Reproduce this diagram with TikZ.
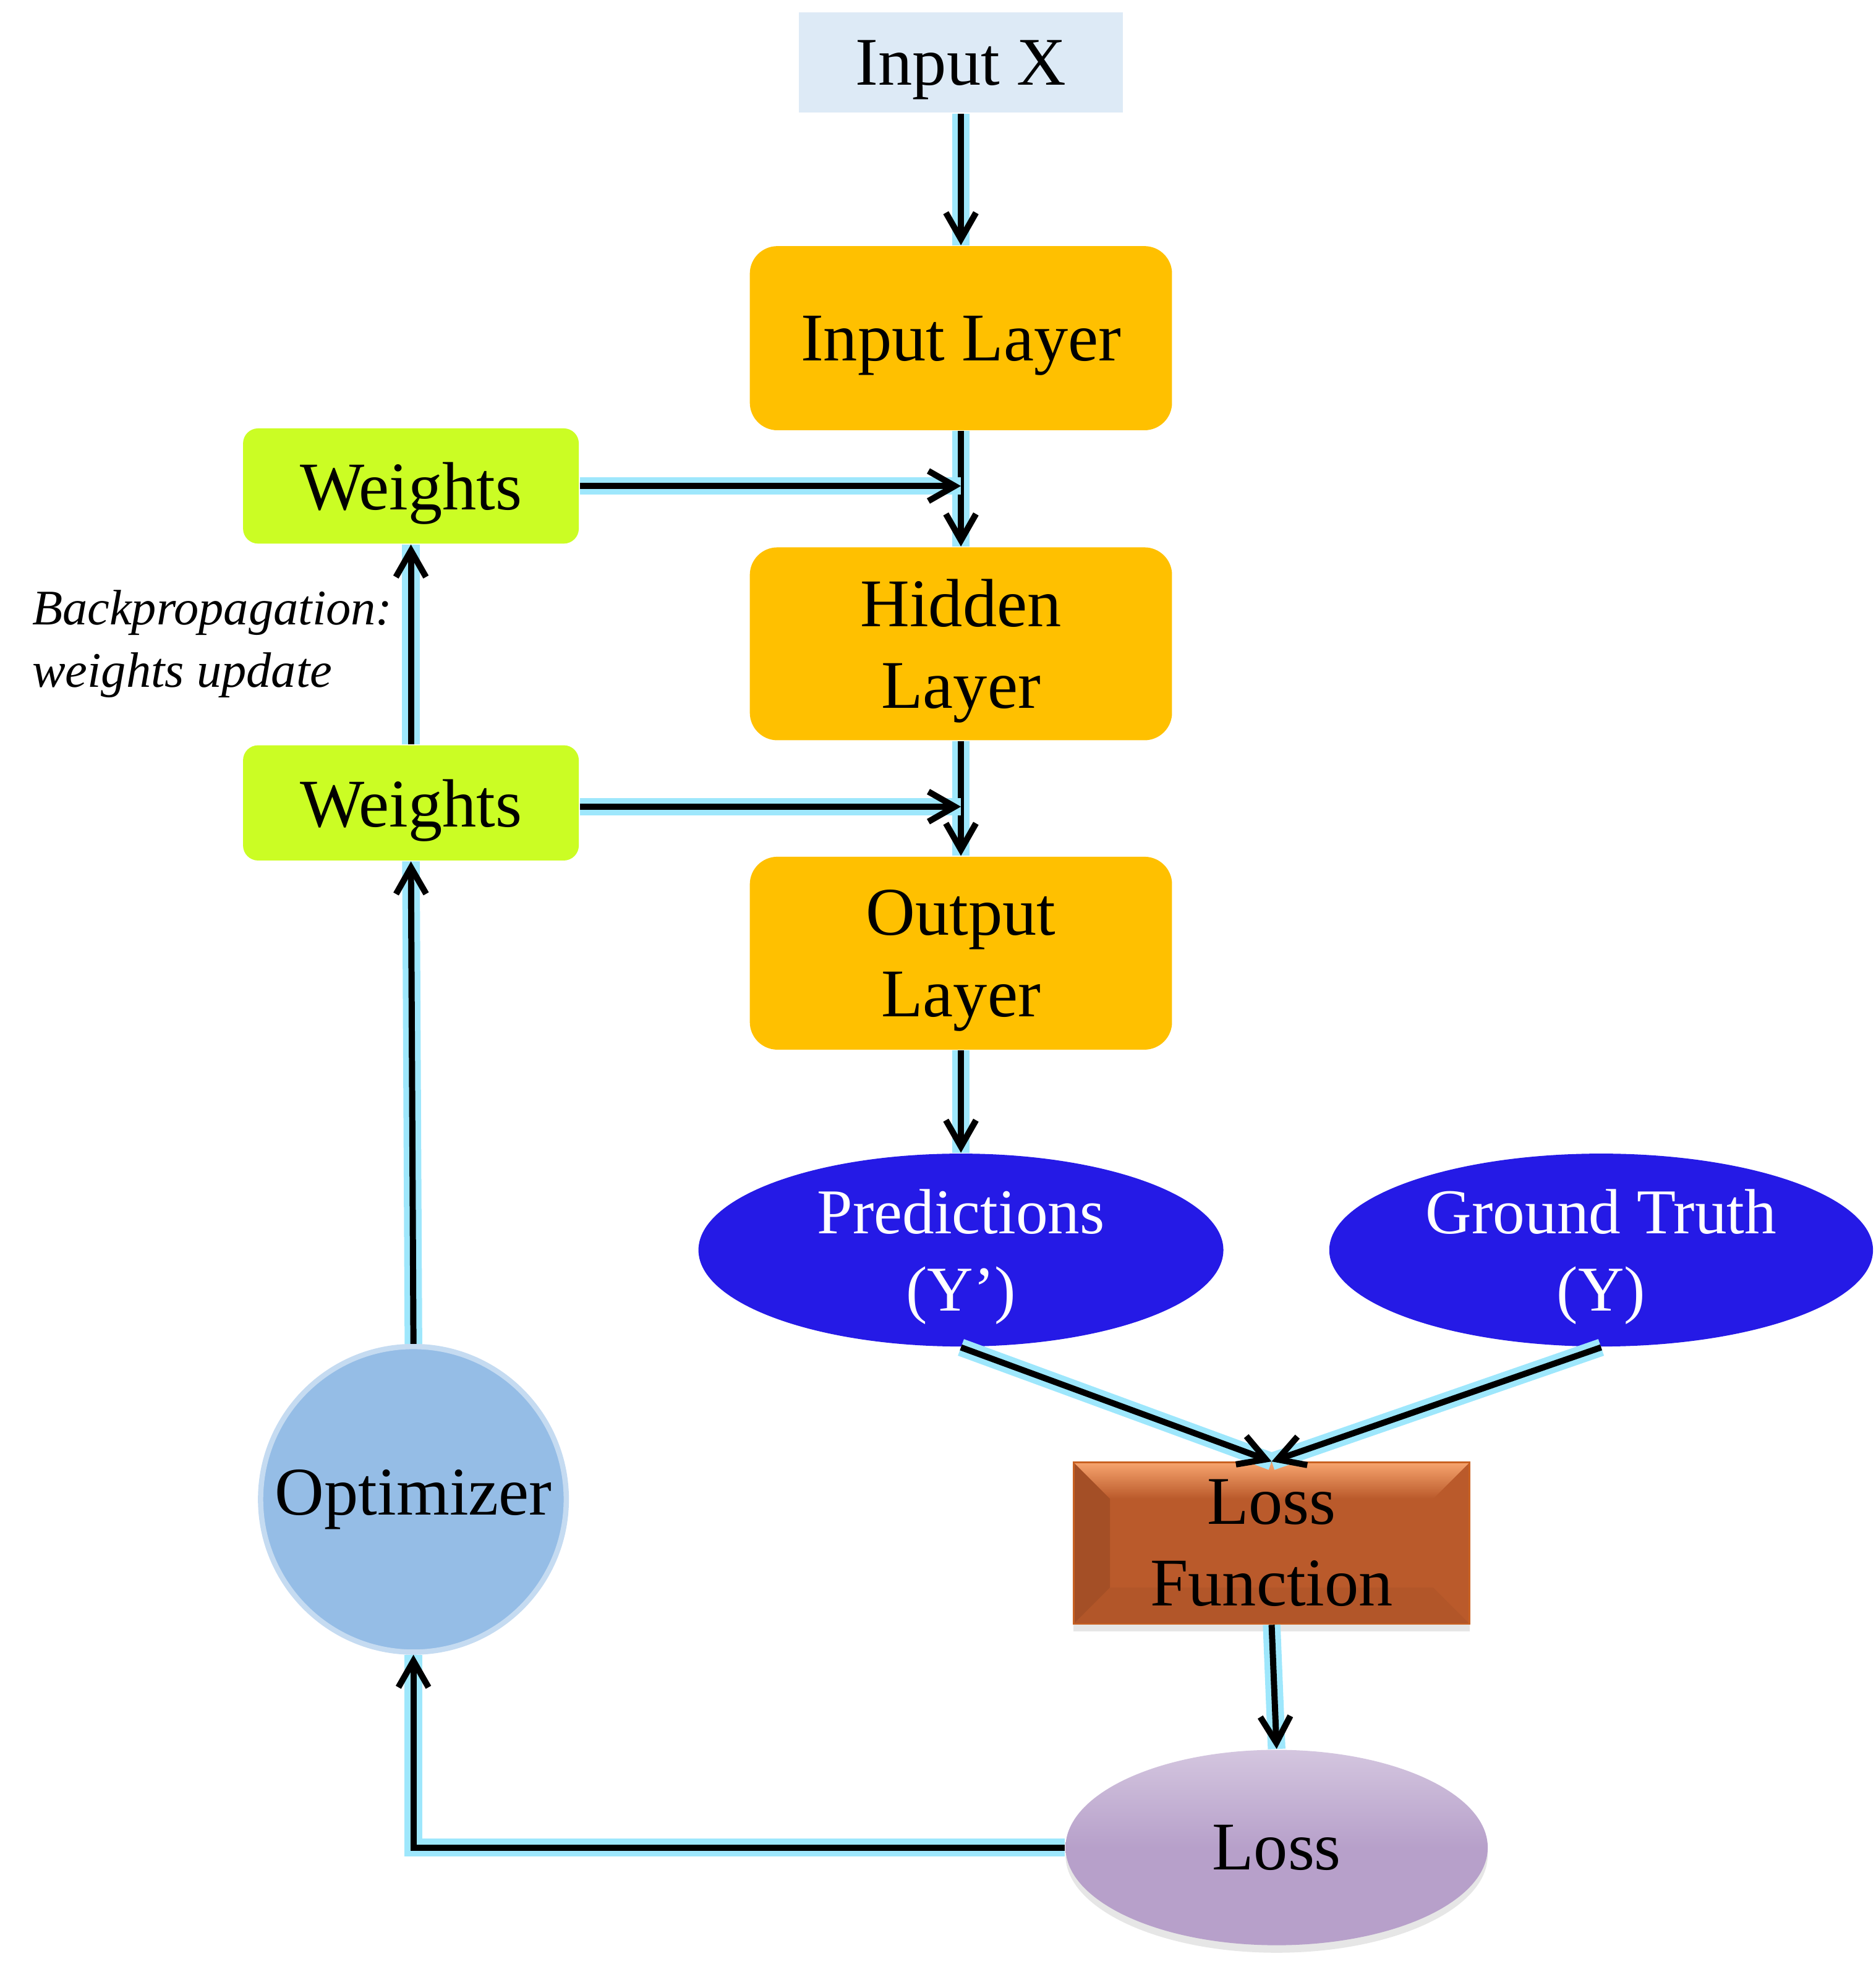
\documentclass[tikz,border=0pt]{standalone}
\usepackage{fontspec}
\setmainfont{Liberation Serif}
\usetikzlibrary{arrows.meta,shapes.geometric,shadows}

\definecolor{inputblue}{HTML}{DDEAF6}
\definecolor{layerorange}{HTML}{FFC000}
\definecolor{weightlime}{HTML}{CBFD24}
\definecolor{predblue}{HTML}{251AE6}
\definecolor{lossbrown}{HTML}{BA5A2B}
\definecolor{losstop}{HTML}{F7A46E}
\definecolor{optblue}{HTML}{95BDE6}
\definecolor{losslilac}{HTML}{B7A0CA}
\definecolor{glowcyan}{HTML}{9EE7FC}

\tikzset{
  base/.style={inner sep=0pt, align=center, font=\fontsize{15.5}{18.5}\selectfont},
  inbox/.style={base, rectangle, fill=inputblue, minimum width=2.59cm, minimum height=0.80cm, text depth=0pt},
  layer/.style={base, rectangle, rounded corners=0.22cm, fill=layerorange, minimum width=3.37cm, minimum height=1.54cm, text depth=0pt},
  wbox/.style={base, rectangle, rounded corners=0.12cm, fill=weightlime, minimum width=2.68cm, minimum height=0.92cm, text depth=0pt},
  target/.style={base, ellipse, fill=predblue, text=white, minimum height=1.54cm, text depth=0pt, font=\fontsize{14.5}{17.5}\selectfont},
  lossfn/.style={base, rectangle, fill=lossbrown, draw=lossbrown!80!orange, minimum width=3.16cm, minimum height=1.29cm,
    drop shadow={opacity=.2, shadow xshift=0pt, shadow yshift=-.6mm},
    path picture={
      \fill[lossbrown!88!black] (path picture bounding box.north west) -- (path picture bounding box.south west)
        -- ++(.29,.29) |- ([shift={(.29,-.29)}]path picture bounding box.north west) -- cycle;
      \shade[top color=losstop, bottom color=lossbrown] (path picture bounding box.north west) -- (path picture bounding box.north east)
        -- ++(-.29,-.29) -- ([shift={(.29,-.29)}]path picture bounding box.north west) -- cycle;
      \fill[lossbrown!96!black] (path picture bounding box.south west) -- (path picture bounding box.south east)
        -- ++(-.29,.29) -- ([shift={(.29,.29)}]path picture bounding box.south west) -- cycle;
    }},
  opt/.style={base, circle, fill=optblue, draw=optblue!55!white, line width=1.2pt, minimum size=2.44cm},
  lossval/.style={base, ellipse, top color=losslilac!60!white, bottom color=losslilac, middle color=losslilac, minimum width=3.37cm, minimum height=1.56cm,
    drop shadow={opacity=.2, shadow xshift=0pt, shadow yshift=-.6mm}},
  note/.style={inner sep=0pt, align=left, anchor=west, font=\fontsize{11.3}{14.2}\selectfont\itshape},
  flow/.style={-{Straight Barb[length=2.1mm,width=2.4mm]}, line width=1.4pt, black,
    preaction={draw=glowcyan, line width=4pt, arrows=-}}
}

\begin{document}
\begin{tikzpicture}
  \useasboundingbox (0,0) rectangle (14.97,-15.68);

  % forward pass
  \node[inbox] (x) at (7.67,-0.50) {Input X};
  \node[layer, minimum height=1.47cm] (il) at (7.67,-2.70) {Input Layer};
  \node[layer] (hl) at (7.67,-5.14) {Hidden\\Layer};
  \node[layer] (ol) at (7.67,-7.61) {Output\\Layer};

  \node[wbox] (w1) at (3.28,-3.88) {Weights};
  \node[wbox] (w2) at (3.28,-6.41) {Weights};
  \node[note] (bp) at (0.25,-5.14) {Backpropagation:\\weights update};

  \node[target, minimum width=4.19cm] (pred) at (7.67,-9.98) {Predictions\\(Y’)};
  \node[target, minimum width=4.34cm] (gt) at (12.78,-9.98) {Ground Truth\\(Y)};

  \node[lossfn] (lf) at (10.15,-12.32) {Loss\\Function};
  \node[opt] (opt) at (3.30,-11.97) {Optimizer};
  \node[lossval] (loss) at (10.19,-14.75) {Loss};

  \coordinate (j1) at (w1.east -| il.south);
  \coordinate (j2) at ([yshift=-0.03cm]w2.east -| hl.south);

  \draw[flow] (x) -- (il);
  \draw[flow] (il) -- (hl);
  \draw[flow] (hl) -- (ol);
  \draw[flow] (ol) -- (pred);
  \draw[flow] (w1.east) -- (j1);
  \draw[flow] ([yshift=-0.03cm]w2.east) -- (j2);

  % loss and update
  \draw[flow] (pred.south) -- (lf.north);
  \draw[flow] (gt.south) -- (lf.north);
  \draw[flow] (lf.south) -- (loss.north);
  \draw[flow] (loss.west) -| (opt.south);
  \draw[flow] (opt.north) -- (w2.south);
  \draw[flow] (w2.north) -- (w1.south);
\end{tikzpicture}
\end{document}
